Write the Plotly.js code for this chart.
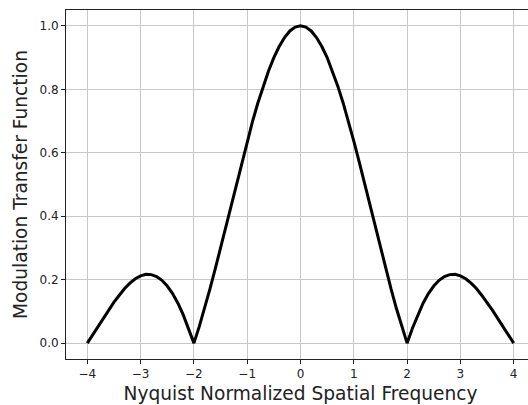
<!DOCTYPE html>
<html>
<head>
<meta charset="utf-8">
<script src="https://cdn.plot.ly/plotly-3.0.1.min.js"></script>
<style>
  html, body { margin: 0; padding: 0; background: #fff; overflow: hidden; }
  #plot { width: 536px; height: 405px; }
</style>
</head>
<body>
<div id="plot"></div>
<script>
// Normalized spatial frequency (in units of Nyquist)
const freq = [
  -4.0, -3.9, -3.8, -3.7, -3.6, -3.5, -3.4, -3.3, -3.2, -3.1,
  -3.0, -2.9, -2.8, -2.7, -2.6, -2.5, -2.4, -2.3, -2.2, -2.1,
  -2.0, -1.9, -1.8, -1.7, -1.6, -1.5, -1.4, -1.3, -1.2, -1.1,
  -1.0, -0.9, -0.8, -0.7, -0.6, -0.5, -0.4, -0.3, -0.2, -0.1,
   0.0,
   0.1,  0.2,  0.3,  0.4,  0.5,  0.6,  0.7,  0.8,  0.9,  1.0,
   1.1,  1.2,  1.3,  1.4,  1.5,  1.6,  1.7,  1.8,  1.9,  2.0,
   2.1,  2.2,  2.3,  2.4,  2.5,  2.6,  2.7,  2.8,  2.9,  3.0,
   3.1,  3.2,  3.3,  3.4,  3.5,  3.6,  3.7,  3.8,  3.9,  4.0
];

// Modulation transfer function magnitude
const mtf = [
  0.000, 0.026, 0.052, 0.078, 0.104, 0.129, 0.151, 0.172, 0.189, 0.203,
  0.212, 0.217, 0.216, 0.210, 0.198, 0.180, 0.156, 0.126, 0.089, 0.047,
  0.000, 0.052, 0.109, 0.170, 0.234, 0.300, 0.368, 0.436, 0.505, 0.572,
  0.637, 0.699, 0.757, 0.810, 0.858, 0.900, 0.935, 0.963, 0.984, 0.996,
  1.000,
  0.996, 0.984, 0.963, 0.935, 0.900, 0.858, 0.810, 0.757, 0.699, 0.637,
  0.572, 0.505, 0.436, 0.368, 0.300, 0.234, 0.170, 0.109, 0.052, 0.000,
  0.047, 0.089, 0.126, 0.156, 0.180, 0.198, 0.210, 0.216, 0.217, 0.212,
  0.203, 0.189, 0.172, 0.151, 0.129, 0.104, 0.078, 0.052, 0.026, 0.000
];

const xTicks = [-4, -3, -2, -1, 0, 1, 2, 3, 4];
const yTicks = [0.0, 0.2, 0.4, 0.6, 0.8, 1.0];
const yTickText = ['0.0', '0.2', '0.4', '0.6', '0.8', '1.0'];

const font = 'DejaVu Sans, sans-serif';
const ink = '#222222';

const trace = {
  x: freq,
  y: mtf,
  type: 'scatter',
  mode: 'lines',
  line: { color: '#000000', width: 3 },
  hoverinfo: 'skip'
};

const layout = {
  width: 536,
  height: 405,
  margin: { l: 66, r: 1, t: 10, b: 46 },
  paper_bgcolor: '#ffffff',
  plot_bgcolor: '#ffffff',
  showlegend: false,
  font: { family: font, color: ink, size: 12 },
  xaxis: {
    range: [-4.4, 4.4],
    tickmode: 'array',
    tickvals: xTicks,
    ticks: 'outside',
    ticklen: 4,
    tickwidth: 1,
    tickcolor: ink,
    showgrid: true,
    gridcolor: '#c8c8c8',
    gridwidth: 1,
    zeroline: false,
    showline: true,
    linecolor: ink,
    linewidth: 1,
    mirror: true,
    tickfont: { family: font, size: 12, color: ink },
    title: {
      text: 'Nyquist Normalized Spatial Frequency',
      font: { family: font, size: 18.6, color: ink },
      standoff: 6
    }
  },
  yaxis: {
    range: [-0.05, 1.05],
    tickmode: 'array',
    tickvals: yTicks,
    ticktext: yTickText,
    ticks: 'outside',
    ticklen: 4,
    tickwidth: 1,
    tickcolor: ink,
    showgrid: true,
    gridcolor: '#c8c8c8',
    gridwidth: 1,
    zeroline: false,
    showline: true,
    linecolor: ink,
    linewidth: 1,
    mirror: true,
    tickfont: { family: font, size: 12, color: ink },
    title: {
      text: 'Modulation Transfer Function',
      font: { family: font, size: 18.6, color: ink },
      standoff: 6
    }
  }
};

Plotly.newPlot('plot', [trace], layout, { displayModeBar: false, staticPlot: true });
</script>
</body>
</html>
